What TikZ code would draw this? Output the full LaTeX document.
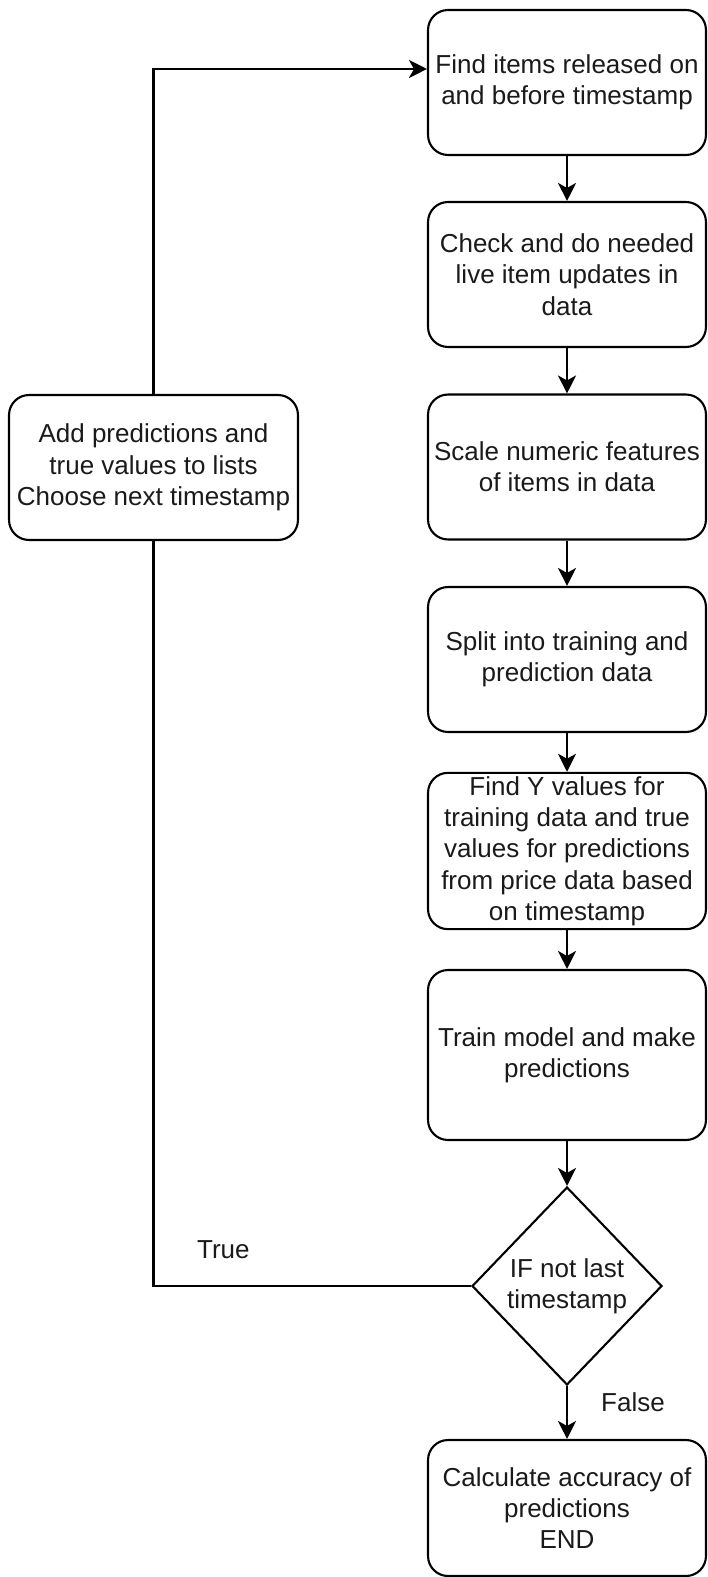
\documentclass[tikz,border=0pt]{standalone}
\usepackage{fontspec}
\setmainfont{Liberation Sans}
\usetikzlibrary{arrows.meta,positioning,calc,shapes.geometric}
\definecolor{boxline}{HTML}{000000}
\definecolor{boxtext}{HTML}{1A1A1A}
\tikzset{
  >={Stealth[length=3.6mm,width=3.6mm,inset=1mm]},
  % flödesschema
  pb/.style={rectangle,rounded corners=4mm,draw=boxline,fill=white,line width=1.2pt,
             minimum width=5.56cm,minimum height=2.9cm,inner sep=2pt,align=center,
             text=boxtext,font=\fontsize{14.8}{17.8}\selectfont},
  dec/.style={diamond,draw=boxline,fill=white,line width=1.2pt,aspect=1,inner sep=0pt,
              minimum width=3.8cm,minimum height=3.96cm,align=center,
              text=boxtext,font=\fontsize{14.8}{17.8}\selectfont},
  fe/.style={->,draw=boxline,line width=1.2pt},
  fline/.style={draw=boxline,line width=1.2pt},
  fl/.style={text=boxtext,font=\fontsize{14.8}{17.8}\selectfont,inner sep=0pt},
}
\begin{document}
\begin{tikzpicture}[x=0.02cm,y=-0.02cm]
\useasboundingbox (0,0) rectangle (707,1577);
  \node[pb] (find) at (567,82.5) {Find items released on\\and before timestamp};
  \node[pb] (check) at (567,274.5) {Check and do needed\\live item updates in\\data};
  \node[pb] (scale) at (567,467) {Scale numeric features\\of items in data};
  \node[pb] (split) at (567,659.5) {Split into training and\\prediction data};
  \node[pb] (yval) at (567,851) {Find Y values for\\training data and true\\values for predictions\\from price data based\\on timestamp};
  \node[pb,minimum height=3.4cm] (train) at (567,1055) {Train model and make\\predictions};
  \node[dec] (last) at (567,1286) {IF not last\\timestamp};
  \node[pb,minimum height=2.72cm] (acc) at (567,1508) {Calculate accuracy of\\predictions\\END};
  \node[pb,minimum width=5.78cm] (add) at (153.5,467.5) {Add predictions and\\true values to lists\\Choose next timestamp};
  \draw[fe] (find) -- (check);
  \draw[fe] (check) -- (scale);
  \draw[fe] (scale) -- (split);
  \draw[fe] (split) -- (yval);
  \draw[fe] (yval) -- (train);
  \draw[fe] (train) -- (last);
  \draw[fe] (last) -- node[fl,pos=0.3,xshift=1.32cm] {False} (acc);
  \draw[fline] (last.west) -| node[fl,pos=0.39,yshift=0.72cm] {True} (add.south);
  \draw[fe] (add.north) |- ([yshift=0.27cm]find.west);
\end{tikzpicture}
\end{document}
